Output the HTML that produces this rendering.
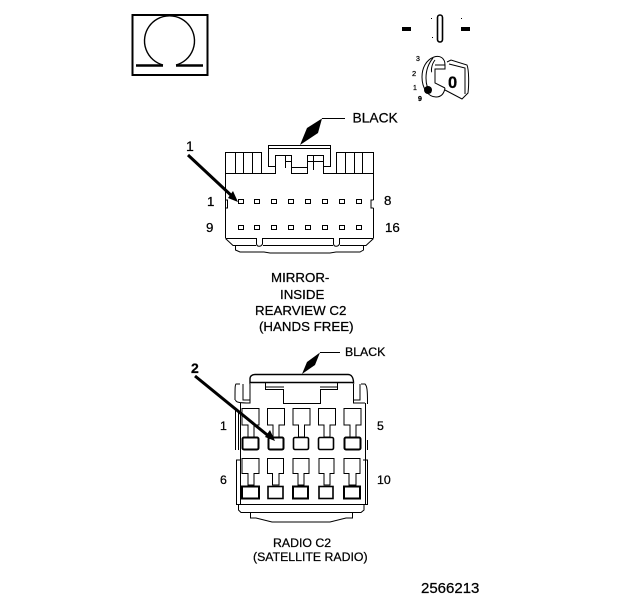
<!DOCTYPE html>
<html><head><meta charset="utf-8"><style>
html,body{margin:0;padding:0;background:#fff;width:624px;height:600px;overflow:hidden}
svg{display:block}
text{font-family:"Liberation Sans",sans-serif;font-size:13.3px;fill:#000;stroke:#000;stroke-width:.25px}
</style></head><body>
<svg width="624" height="600" viewBox="0 0 624 600" xmlns="http://www.w3.org/2000/svg" fill="none" stroke="#000" stroke-width="1">
<!-- Omega -->
<rect x="132.500" y="15" width="75" height="60" stroke-width="2"/>
<path d="M163 65 A25 25 0 1 1 176 65" stroke-width="1.4"/>
<path d="M136 65.500H163M176 65.500H203" stroke-width="2.400"/>
<!-- switch -->
<rect x="402" y="27" width="9" height="4" fill="#000" stroke="none"/>
<rect x="461" y="27" width="9" height="4" fill="#000" stroke="none"/>
<rect x="437.500" y="15" width="5" height="27" rx="2.500" stroke-width="1.600"/>
<rect x="431" y="18" width="1" height="1" fill="#000" stroke="none"/>
<rect x="432" y="37" width="1" height="1" fill="#000" stroke="none"/>
<rect x="461" y="18" width="1" height="1" fill="#000" stroke="none"/>
<!-- key -->
<path d="M445 65 C445 58 440 55 434 57 C426 60 422 68 422 77 C422 88 428 97 436 97 C441 97 444 94 445 88"/>
<path d="M433 58 C428 64 426 70 426 78 C426 85 428 90 431 93"/>
<path d="M435 60 C431 65 431 72 432 72"/>
<path d="M435 65H445V69H435V83L445 88"/>
<path d="M447 62 L451 60 L467 65 C469 70 469 85 468 93 L462 99 L445 90 M449 64 L465 68 V94"/>
<text x="448" y="88" style="font-size:16.500px;font-weight:bold">0</text>
<circle cx="428" cy="90" r="4" fill="#000" stroke="none"/>
<text x="416" y="61" style="font-size:7px">3</text>
<text x="412" y="76" style="font-size:7.500px">2</text>
<text x="413" y="90" style="font-size:7px">1</text>
<text x="418" y="101" style="font-size:7px;font-weight:bold">9</text>
<!-- top connector -->
<path d="M322 118.500H345"/>
<path d="M300 145L307 128L322 118.500L318 133Z" fill="#000" stroke="none"/>
<text x="352.500" y="122.500" style="font-size:13.800px">BLACK</text>
<path d="M225.500 152.500H261.500V173.500H225.500ZM235.500 152.500V173.500M243.500 152.500V173.500M252.500 152.500V173.500"/>
<path d="M336.500 152.500H373.500V173.500H336.500ZM345.500 152.500V173.500M354.500 152.500V173.500M362.500 152.500V173.500"/>
<path d="M268.500 166.500V145.500H330.500V166.500H323.500V155.500H307.500V167.500H291.500V155.500H275.500V166.500ZM268.500 148.500H330.500"/>
<path d="M285.500 155V168M285.500 161.500H291M313.500 155V170M307.500 161.500H323M261.500 173.500H275.500V166.500M291.500 167.500V173.500H307.500V167.500M323.500 166.500V173.500H336.500"/>
<path d="M225.500 173.500V238M373.500 173.500V200M373.500 208V238M373.500 200H371V208H373.500M225.500 200H227.500V208H225.500"/>
<path d="M225.500 238.500H256.500V244C257 247 261 247 262.500 244V238.500H333.500V244C334 247 338 247 339.500 244V238.500H373.500"/>
<path d="M225.500 238.500L233 245.500H256M263 245.500H333M340 245.500H366L373.500 238.500"/>
<path d="M235.500 245.500V250L240 252H264L270 253H330L336 252H360L363.500 250V245.500"/>
<g fill="#fff">
<rect x="238.500" y="199.500" width="5" height="4"/><rect x="254.500" y="199.500" width="5" height="4"/><rect x="271.500" y="199.500" width="5" height="4"/><rect x="288.500" y="199.500" width="5" height="4"/><rect x="305.500" y="199.500" width="5" height="4"/><rect x="322.500" y="199.500" width="5" height="4"/><rect x="339.500" y="199.500" width="5" height="4"/><rect x="356.500" y="199.500" width="5" height="4"/>
<rect x="238.500" y="225.500" width="5" height="4"/><rect x="254.500" y="225.500" width="5" height="4"/><rect x="271.500" y="225.500" width="5" height="4"/><rect x="288.500" y="225.500" width="5" height="4"/><rect x="305.500" y="225.500" width="5" height="4"/><rect x="322.500" y="225.500" width="5" height="4"/><rect x="339.500" y="225.500" width="5" height="4"/><rect x="356.500" y="225.500" width="5" height="4"/>
</g>
<path d="M188 155L234 198" stroke-width="3"/><path d="M228 198L238 202L233 191Z" fill="#000" stroke="none"/>
<text x="186" y="151" style="font-size:14px">1</text>
<text x="207" y="206">1</text><text x="384" y="205">8</text>
<text x="206" y="232">9</text><text x="385" y="232">16</text>
<text x="271" y="282">MIRROR-</text>
<text x="280" y="299">INSIDE</text>
<text x="255" y="315">REARVIEW C2</text>
<text x="259" y="331">(HANDS FREE)</text>
<!-- bottom connector -->
<path d="M320 352.500H340"/>
<path d="M302 374L307 362L320 352.500L315 365Z" fill="#000" stroke="none"/>
<text x="345" y="356" style="font-size:12.300px">BLACK</text>
<path d="M250 383V379C250 376 252 374.500 255 374.500H348C351 374.500 353.500 377 353.500 383L352 382.500H251Z" stroke-width="1.400"/>
<path d="M265.500 383V389.500H283.500V403.500H320.500V389.500H337.500V383M265.500 387H284M320 387H337"/>
<path d="M240 384L236 384C235 385 235 388 235 400M235.500 400C236 402 238 403 250 403V384M243 384V400H250"/>
<path d="M353.500 384V403H365M361 384H365C367 386 367.500 390 367.500 402V404M360 384V400H353.500"/>
<path d="M240.500 403V504M365.500 403V504M235.500 410V450M238.500 410V450M367.500 440V450"/>
<g fill="#fff">
<path d="M242 408.500H259V425H254V437H248V425H242Z"/>
<path d="M267.500 408.500H284.500V425H279V437H273V425H267.500Z"/>
<path d="M293 408.500H310V425H304.500V437H298.500V425H293Z"/>
<path d="M318.500 408.500H335.500V425H330V437H324V425H318.500Z"/>
<path d="M344 408.500H361V425H356V437H350V425H344Z"/>
<rect x="242.500" y="437.500" width="16" height="12" rx="1.500" stroke-width="2"/>
<rect x="268.500" y="437.500" width="15" height="12" rx="1.500" stroke-width="2"/>
<rect x="293.500" y="437.500" width="15" height="12" rx="1.500" stroke-width="1.600"/>
<rect x="318.500" y="437.500" width="15" height="12" rx="1.500" stroke-width="1.600"/>
<rect x="344.500" y="437.500" width="16" height="12" rx="1.500" stroke-width="2"/>
</g>
<g fill="#fff">
<path d="M242 458.500H259V473.500H254V485H248V473.500H242Z"/>
<path d="M267.500 458.500H283.500V473.500H279V485H272.500V473.500H267.500Z"/>
<path d="M293 458.500H309V473.500H304V485H298V473.500H293Z"/>
<path d="M319 458.500H334V473.500H330V485H324V473.500H319Z"/>
<path d="M344 458.500H360V473.500H356V485H349V473.500H344Z"/>
<rect x="242" y="486.500" width="17" height="12" stroke-width="2"/>
<rect x="268" y="486.500" width="15" height="12" stroke-width="1.600"/>
<rect x="293" y="486.500" width="15" height="12" stroke-width="2"/>
<rect x="319" y="486.500" width="14" height="12" stroke-width="1.600"/>
<rect x="344" y="486.500" width="16" height="12" stroke-width="2"/>
</g>
<path d="M240 460H236.500V504.500H367.500V460H363"/>
<path d="M238.500 504.500V510L241 512.500H361L364 510V504.500"/>
<path d="M250.500 512.500V518H256L272 522H330L346 518H352.500V512.500"/>
<path d="M195 376L271 438" stroke-width="3"/><path d="M265 437L275 441L270 430Z" fill="#000" stroke="none"/>
<text x="191" y="373" style="font-size:14px;font-weight:bold">2</text>
<text x="220" y="430" style="font-size:12.300px">1</text><text x="377" y="430" style="font-size:12.300px">5</text>
<text x="220" y="484" style="font-size:12.300px">6</text><text x="377" y="484" style="font-size:12.300px">10</text>
<text x="273" y="547" style="font-size:12.300px">RADIO C2</text>
<text x="253" y="561" style="font-size:12.300px">(SATELLITE RADIO)</text>
<text x="421" y="593" style="font-size:15px">2566213</text>
</svg>
</body></html>
